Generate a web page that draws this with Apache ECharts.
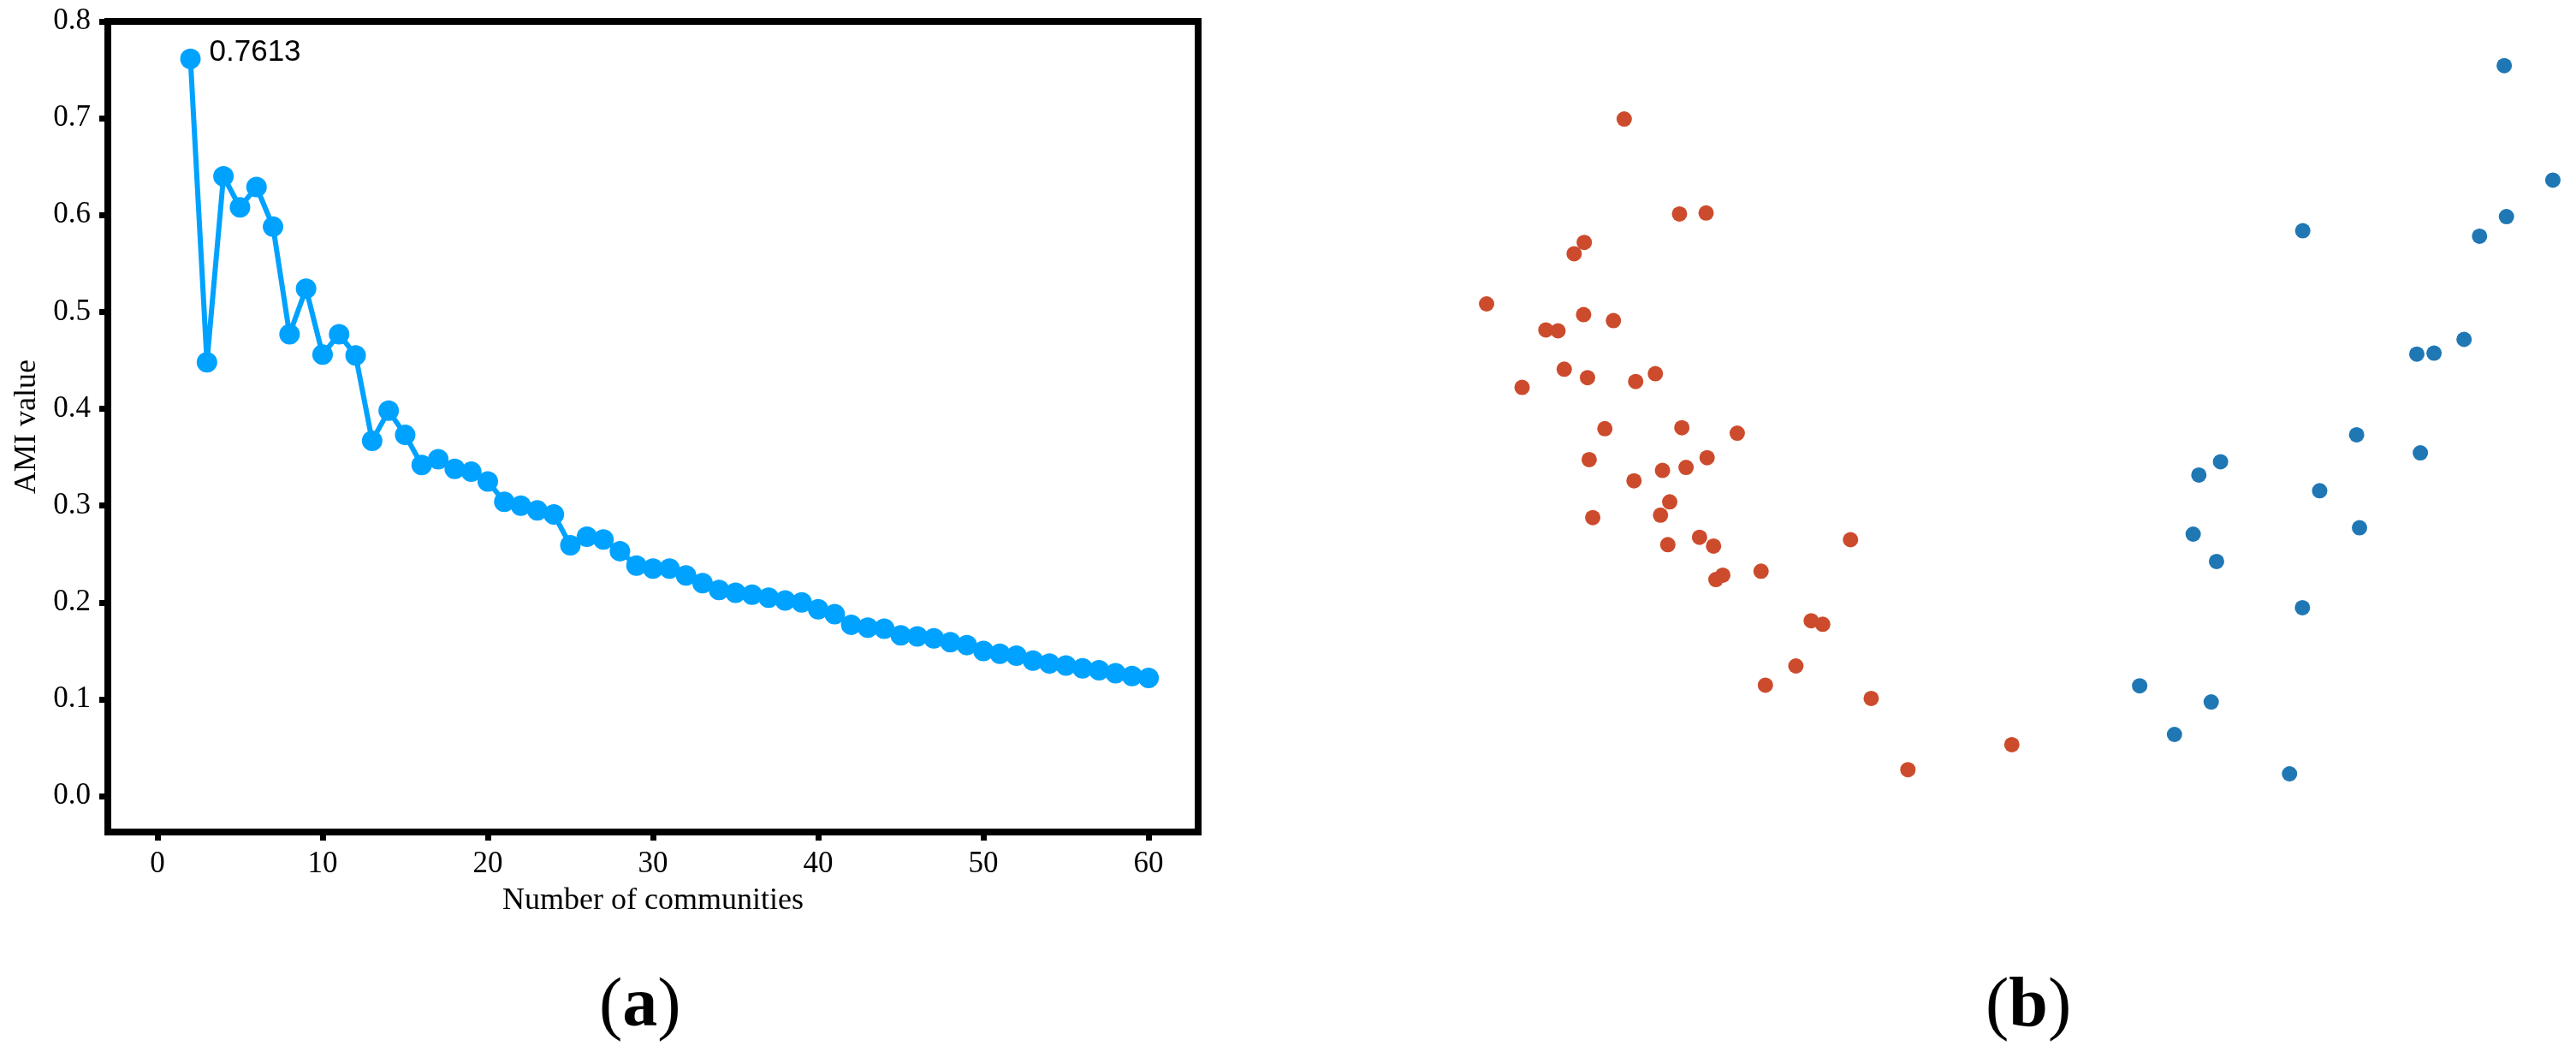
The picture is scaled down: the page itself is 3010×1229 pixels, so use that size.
<!DOCTYPE html>
<html>
<head>
<meta charset="utf-8">
<script src="https://cdn.jsdelivr.net/npm/echarts@6/dist/echarts.min.js"></script>
<style>
  html, body { margin: 0; padding: 0; background: #fff; }
  #chart { width: 3010px; height: 1229px; }
</style>
</head>
<body>
<div id="chart"></div>
<script>
// (a) AMI value per number of communities
var communities = [2, 3, 4, 5, 6, 7, 8, 9, 10, 11, 12, 13, 14, 15, 16, 17, 18, 19, 20,
  21, 22, 23, 24, 25, 26, 27, 28, 29, 30, 31, 32, 33, 34, 35, 36, 37, 38, 39, 40,
  41, 42, 43, 44, 45, 46, 47, 48, 49, 50, 51, 52, 53, 54, 55, 56, 57, 58, 59, 60];
var amiValues = [0.7613, 0.448, 0.640, 0.608, 0.629, 0.588, 0.477, 0.524, 0.456, 0.477,
  0.455, 0.367, 0.398, 0.373, 0.342, 0.348, 0.338, 0.335, 0.325, 0.304,
  0.300, 0.295, 0.291, 0.259, 0.268, 0.265, 0.253, 0.238, 0.235, 0.235,
  0.228, 0.220, 0.213, 0.210, 0.208, 0.205, 0.202, 0.200, 0.193, 0.188,
  0.177, 0.174, 0.173, 0.166, 0.165, 0.163, 0.159, 0.156, 0.150, 0.147,
  0.145, 0.140, 0.137, 0.135, 0.132, 0.130, 0.127, 0.124, 0.122];
var xTicks = [0, 10, 20, 30, 40, 50, 60];
var yTicks = [0, 0.1, 0.2, 0.3, 0.4, 0.5, 0.6, 0.7, 0.8];

// (b) two groups of points, no axes shown
var redX = [15.22, 20.19, 22.58, 11.63, 10.72, 2.85, 11.57, 14.25, 8.18, 9.27,
  9.83, 11.92, 6.04, 16.25, 18.02, 13.48, 20.40, 25.38, 12.07, 22.67,
  18.66, 20.78, 16.10, 19.31, 18.48, 12.39, 19.14, 21.99, 23.25, 35.56,
  27.52, 24.08, 23.46, 32.03, 33.06, 30.65, 27.91, 37.42, 40.72, 50.06];
var redY = [88.99, 76.68, 76.80, 72.98, 71.51, 65.00, 63.60, 62.83, 61.62, 61.50,
  56.52, 55.43, 54.16, 54.92, 55.94, 48.80, 48.93, 48.22, 44.78, 45.03,
  43.38, 43.77, 42.04, 39.30, 37.58, 37.26, 33.74, 34.70, 33.56, 34.39,
  30.30, 29.79, 29.22, 23.87, 23.41, 18.00, 15.51, 13.79, 4.53, 7.78];
var blueX = [94.32, 98.69, 76.21, 94.52, 92.10, 90.71, 86.46, 88.01, 81.05, 86.78,
  68.82, 66.87, 77.73, 81.31, 66.36, 68.46, 76.18, 61.55, 67.98, 64.68, 75.02];
var blueY = [95.92, 81.06, 74.49, 76.33, 73.78, 60.39, 58.48, 58.60, 48.01, 45.66,
  44.51, 42.78, 40.74, 35.94, 35.11, 31.56, 25.56, 15.42, 13.32, 9.11, 4.00];

function pairs(xs, ys) {
  return xs.map(function (x, i) { return [x, ys[i]]; });
}

var serif = 'Liberation Serif';
var lineData = pairs(communities, amiValues);
lineData[0] = {
  value: lineData[0],
  label: {
    show: true,
    position: 'right',
    distance: 10,
    offset: [0, -7],
    formatter: '0.7613',
    fontFamily: 'Liberation Sans',
    fontSize: 35,
    color: '#000'
  }
};

var chart = echarts.init(document.getElementById('chart'));
chart.setOption({
  backgroundColor: '#fff',
  animation: false,
  grid: [
    { left: 126, top: 25, width: 1274, height: 947, show: true, borderColor: '#000', borderWidth: 8 },
    { left: 1700, top: 40, width: 1300, height: 900 }
  ],
  xAxis: [
    {
      type: 'value', gridIndex: 0, min: -3, max: 63,
      name: 'Number of communities', nameLocation: 'middle', nameGap: 63,
      nameTextStyle: { fontFamily: serif, fontSize: 36, color: '#000' },
      splitLine: { show: false },
      axisLine: { show: true, onZero: false, lineStyle: { color: '#000', width: 8 } },
      axisTick: { show: true, customValues: xTicks, length: 10, lineStyle: { color: '#000', width: 7 } },
      axisLabel: { customValues: xTicks, margin: 20, fontFamily: serif, fontSize: 35, color: '#000' }
    },
    { type: 'value', gridIndex: 1, min: 0, max: 100, show: false }
  ],
  yAxis: [
    {
      type: 'value', gridIndex: 0, min: -0.037, max: 0.8,
      name: 'AMI value', nameLocation: 'middle', nameGap: 76,
      nameTextStyle: { fontFamily: serif, fontSize: 36, color: '#000' },
      splitLine: { show: false },
      axisLine: { show: true, onZero: false, lineStyle: { color: '#000', width: 8 } },
      axisTick: { show: true, customValues: yTicks, length: 10, lineStyle: { color: '#000', width: 7 } },
      axisLabel: {
        customValues: yTicks, margin: 20, fontFamily: serif, fontSize: 35, color: '#000',
        formatter: function (v) { return v.toFixed(1); }
      }
    },
    { type: 'value', gridIndex: 1, min: 0, max: 100, show: false }
  ],
  series: [
    {
      type: 'line', xAxisIndex: 0, yAxisIndex: 0,
      data: lineData,
      symbol: 'circle', symbolSize: 24,
      lineStyle: { color: '#00A2FF', width: 6 },
      itemStyle: { color: '#00A2FF' }
    },
    {
      type: 'scatter', xAxisIndex: 1, yAxisIndex: 1,
      data: pairs(redX, redY), symbolSize: 18,
      itemStyle: { color: '#CC4B2C', opacity: 1 }
    },
    {
      type: 'scatter', xAxisIndex: 1, yAxisIndex: 1,
      data: pairs(blueX, blueY), symbolSize: 18,
      itemStyle: { color: '#1F77B4', opacity: 1 }
    }
  ],
  graphic: [
    {
      type: 'text', left: 700, top: 1136,
      style: {
        text: '{p|(}{b|a}{p|)}',
        rich: {
          p: { fontFamily: serif, fontSize: 82, color: '#000' },
          b: { fontFamily: serif, fontSize: 82, fontWeight: 'bold', color: '#000' }
        }
      }
    },
    {
      type: 'text', left: 2320, top: 1136,
      style: {
        text: '{p|(}{b|b}{p|)}',
        rich: {
          p: { fontFamily: serif, fontSize: 82, color: '#000' },
          b: { fontFamily: serif, fontSize: 82, fontWeight: 'bold', color: '#000' }
        }
      }
    }
  ]
});
</script>
</body>
</html>
